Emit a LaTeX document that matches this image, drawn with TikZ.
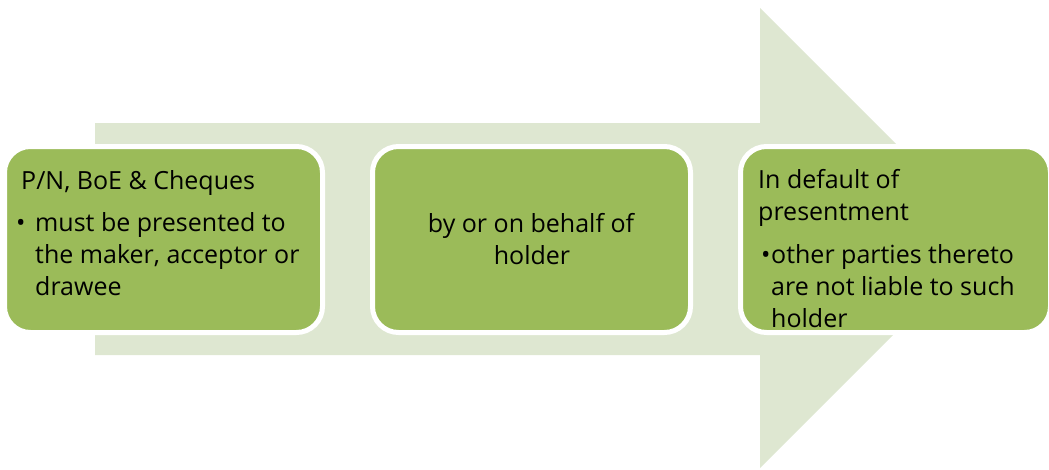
\documentclass[tikz,border=0pt]{standalone}
\usepackage{fontspec}
\setmainfont{Open Sans}
\definecolor{arrowgreen}{RGB}{222,231,209}
\definecolor{boxgreen}{RGB}{155,187,89}
\begin{document}
\begin{tikzpicture}[x=1pt,y=-1pt,
  boxfill/.style={rounded corners=26pt, fill=boxgreen, minimum height=186pt, inner sep=0pt},
  boxedge/.style={rounded corners=26pt, draw=white, line width=5pt, minimum height=186pt, inner sep=0pt},
  txt/.style={inner sep=0pt, font=\fontsize{25}{31}\selectfont, text=black},
]
\useasboundingbox (0,0) rectangle (1049,469);
% big background arrow
\fill[arrowgreen] (95,123) -- (760,123) -- (760,8) -- (990,238) -- (760,468) -- (760,355) -- (95,355) -- cycle;
% boxes (fill)
\node[boxfill, minimum width=318pt] (b1) at (163.5,239.5) {};
\node[boxfill, minimum width=318pt] (b2) at (531.5,239.5) {};
\node[boxfill, minimum width=310pt] (b3) at (895.5,239.5) {};
% box 1 text
\node[txt, anchor=base west] (t1a) at (21,189) {P/N, BoE \& Cheques};
\node[txt, anchor=base west] (t1bul) at (16,231) {•};
\node[txt, anchor=base west] (t1b) at (35,231) {must be presented to};
\node[txt, anchor=base west] (t1c) at (35,263) {the maker, acceptor or};
\node[txt, anchor=base west] (t1d) at (35,295) {drawee};
% box 2 text
\node[txt, anchor=base] (t2a) at (531,232) {by or on behalf of};
\node[txt, anchor=base] (t2b) at (532,264) {holder};
% box 3 text
\node[txt, anchor=base west] (t3a) at (758,188) {In default of};
\node[txt, anchor=base west] (t3b) at (758,220) {presentment};
\node[txt, anchor=base west] (t3bul) at (761,263) {•};
\node[txt, anchor=base west] (t3c) at (771,263) {other parties thereto};
\node[txt, anchor=base west] (t3d) at (771,295) {are not liable to such};
\node[txt, anchor=base west] (t3e) at (771,327) {holder};
% white borders on top
\node[boxedge, minimum width=318pt] (e1) at (b1) {};
\node[boxedge, minimum width=318pt] (e2) at (b2) {};
\node[boxedge, minimum width=310pt] (e3) at (b3) {};
\end{tikzpicture}
\end{document}
